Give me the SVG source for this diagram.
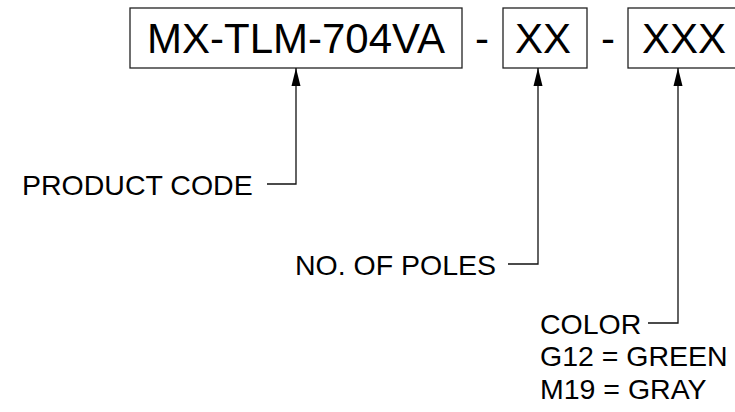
<svg xmlns="http://www.w3.org/2000/svg" width="735" height="412" viewBox="0 0 735 412">
<style>
.box{fill:#fff;stroke:#222;stroke-width:1.3}
.big{font-family:"Liberation Sans",Arial,sans-serif;font-size:42px;fill:#000}
.lbl{font-family:"Liberation Sans",Arial,sans-serif;font-size:28.5px;fill:#000}
.ln{fill:none;stroke:#111;stroke-width:1.3}
</style>
<defs>
<marker id="ah" viewBox="0 0 18 10" refX="18" refY="5" markerWidth="18" markerHeight="10" markerUnits="userSpaceOnUse" orient="auto">
<path d="M18,5 L0,0.5 L0,9.5 Z" fill="#000"/>
</marker>
</defs>
<rect width="735" height="412" fill="#fff"/>
<g id="node-product">
<rect class="box" x="130" y="8" width="332" height="60"/>
<text class="big" x="296" y="53" text-anchor="middle">MX-TLM-704VA</text>
</g>
<text class="big" x="482" y="53" text-anchor="middle">-</text>
<g id="node-poles">
<rect class="box" x="503" y="8" width="84" height="60"/>
<text class="big" x="543" y="53" text-anchor="middle">XX</text>
</g>
<text class="big" x="608" y="53" text-anchor="middle">-</text>
<g id="node-color">
<rect class="box" x="628" y="8" width="112" height="60"/>
<text class="big" x="684" y="53" text-anchor="middle">XXX</text>
</g>
<g id="connectors">
<path class="ln" d="M267,184 H296 V68" marker-end="url(#ah)"/>
<path class="ln" d="M508,264 H538 V68" marker-end="url(#ah)"/>
<path class="ln" d="M648,323 H678 V68" marker-end="url(#ah)"/>
</g>
<g id="label-product">
<text class="lbl" x="22" y="195">PRODUCT CODE</text>
</g>
<g id="label-poles">
<text class="lbl" x="295" y="275">NO. OF POLES</text>
</g>
<g id="label-color">
<text class="lbl" x="540" y="334">COLOR</text>
<text class="lbl" x="540" y="366">G12 = GREEN</text>
<text class="lbl" x="540" y="399">M19 = GRAY</text>
</g>
</svg>
